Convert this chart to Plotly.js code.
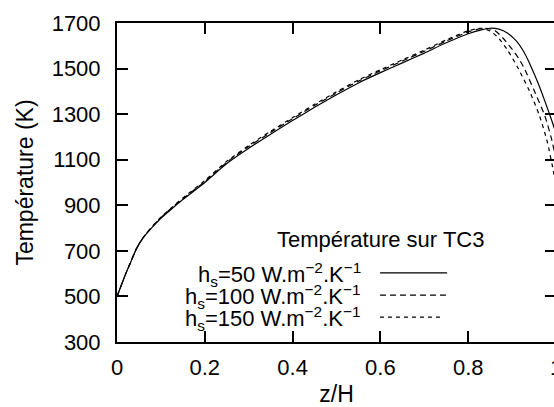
<!DOCTYPE html>
<html>
<head>
<meta charset="utf-8">
<script src="https://cdn.plot.ly/plotly-3.0.1.min.js"></script>
<style>
html,body{margin:0;padding:0;overflow:hidden;background:#fff;}
#chart{width:556px;height:407px;}
</style>
</head>
<body>
<div id="chart"></div>
<script>
// z/H positions and temperatures (K) for each heat transfer coefficient
var z50 = [0,0.01,0.02,0.03,0.045,0.06,0.08,0.1,0.125,0.15,0.2,0.25,0.3,0.35,0.4,0.45,0.5,0.55,0.6,0.65,0.7,0.75,0.8,0.83,0.85,0.87,0.89,0.91,0.93,0.944,0.96,0.975,0.989,1.0];
var T50 = [500,550,600,645,712,758,803,843,885,925,1000,1083,1150,1212,1272,1330,1385,1437,1482,1525,1568,1613,1653,1670,1677,1673,1655,1620,1562,1505,1432,1355,1280,1215];

var z100 = [0,0.01,0.02,0.03,0.045,0.06,0.08,0.1,0.125,0.15,0.2,0.25,0.3,0.35,0.4,0.45,0.5,0.55,0.6,0.65,0.7,0.75,0.8,0.82,0.84,0.86,0.88,0.9,0.915,0.928,0.95,0.975,0.99,1.0];
var T100 = [500,550,600,645,712,759,805,846,889,929,1004,1089,1158,1220,1280,1338,1393,1445,1490,1533,1576,1621,1661,1672,1677,1668,1632,1585,1545,1500,1405,1290,1190,1100];

var z150 = [0,0.01,0.02,0.03,0.045,0.06,0.08,0.1,0.125,0.15,0.2,0.25,0.3,0.35,0.4,0.45,0.5,0.55,0.6,0.65,0.7,0.75,0.8,0.815,0.83,0.85,0.87,0.89,0.914,0.94,0.962,0.98,0.996,1.0];
var T150 = [500,550,600,646,713,760,806,848,891,932,1008,1093,1162,1225,1285,1343,1398,1450,1495,1538,1581,1626,1666,1673,1677,1665,1632,1580,1500,1400,1295,1180,1030,980];

var seriesNames = ['h<sub>s</sub>=50 W.m<sup>\u22122</sup>.K<sup>\u22121</sup>',
                   'h<sub>s</sub>=100 W.m<sup>\u22122</sup>.K<sup>\u22121</sup>',
                   'h<sub>s</sub>=150 W.m<sup>\u22122</sup>.K<sup>\u22121</sup>'];
var legendTitle = 'Température sur TC3';
var xTicks = [0,0.2,0.4,0.6,0.8,1];
var xTickText = ['0','0.2','0.4','0.6','0.8','1'];
var yTicks = [300,500,700,900,1100,1300,1500,1700];

var FONT = 'Liberation Sans, Arial, sans-serif';
var dashes = ['solid','6px,4px','4px,4px'];
var zs = [z50,z100,z150], Ts = [T50,T100,T150];

var traces = zs.map(function(z,i){
  return {x:z, y:Ts[i], mode:'lines', name:seriesNames[i], showlegend:false,
          line:{color:'#000', width:1.2, dash:dashes[i], shape:'spline', smoothing:0.6}, hoverinfo:'skip'};
});

// legend drawn gnuplot-style: text on the left, line sample on the right
var rowY = [0.213,0.143,0.074];
var annotations = [{xref:'paper',yref:'paper',x:0.601,y:0.320,text:legendTitle,showarrow:false,
  xanchor:'center',yanchor:'middle',font:{family:FONT,size:22,color:'#000'}}];
var shapes = [];
var sampleEnd = [0.752,0.752,0.740];
for (var i=0;i<3;i++){
  annotations.push({xref:'paper',yref:'paper',x:0.560,y:rowY[i],text:seriesNames[i],showarrow:false,
    xanchor:'right',yanchor:'middle',font:{family:FONT,size:22,color:'#000'}});
  shapes.push({type:'line',xref:'paper',yref:'paper',x0:0.599,x1:sampleEnd[i],y0:rowY[i]+0.004,y1:rowY[i]+0.004,
    line:{color:'#000',width:1.2,dash:dashes[i]}});
}

var axisCommon = {showline:true, linecolor:'#000', linewidth:2, mirror:'ticks', ticks:'inside',
  ticklen:11, tickwidth:2, tickcolor:'#000', showgrid:false, zeroline:false,
  ticklabeloverflow:'allow',
  tickfont:{family:FONT,size:22,color:'#000'}};

var layout = {
  width:556, height:407,
  margin:{l:117,r:0,t:23,b:65},
  paper_bgcolor:'#fff', plot_bgcolor:'#fff',
  showlegend:false,
  xaxis:Object.assign({}, axisCommon, {range:[0,1], tickvals:xTicks, ticktext:xTickText,
    ticklabelstandoff:5,
    title:{text:'z/H', font:{family:FONT,size:23,color:'#000'}, standoff:10}}),
  yaxis:Object.assign({}, axisCommon, {range:[300,1700], tickvals:yTicks,
    ticklabelstandoff:10,
    title:{text:'Température (K)', font:{family:FONT,size:23,color:'#000'}, standoff:12}}),
  annotations:annotations,
  shapes:shapes
};

Plotly.newPlot('chart', traces, layout, {staticPlot:true, displayModeBar:false});
</script>
</body>
</html>
